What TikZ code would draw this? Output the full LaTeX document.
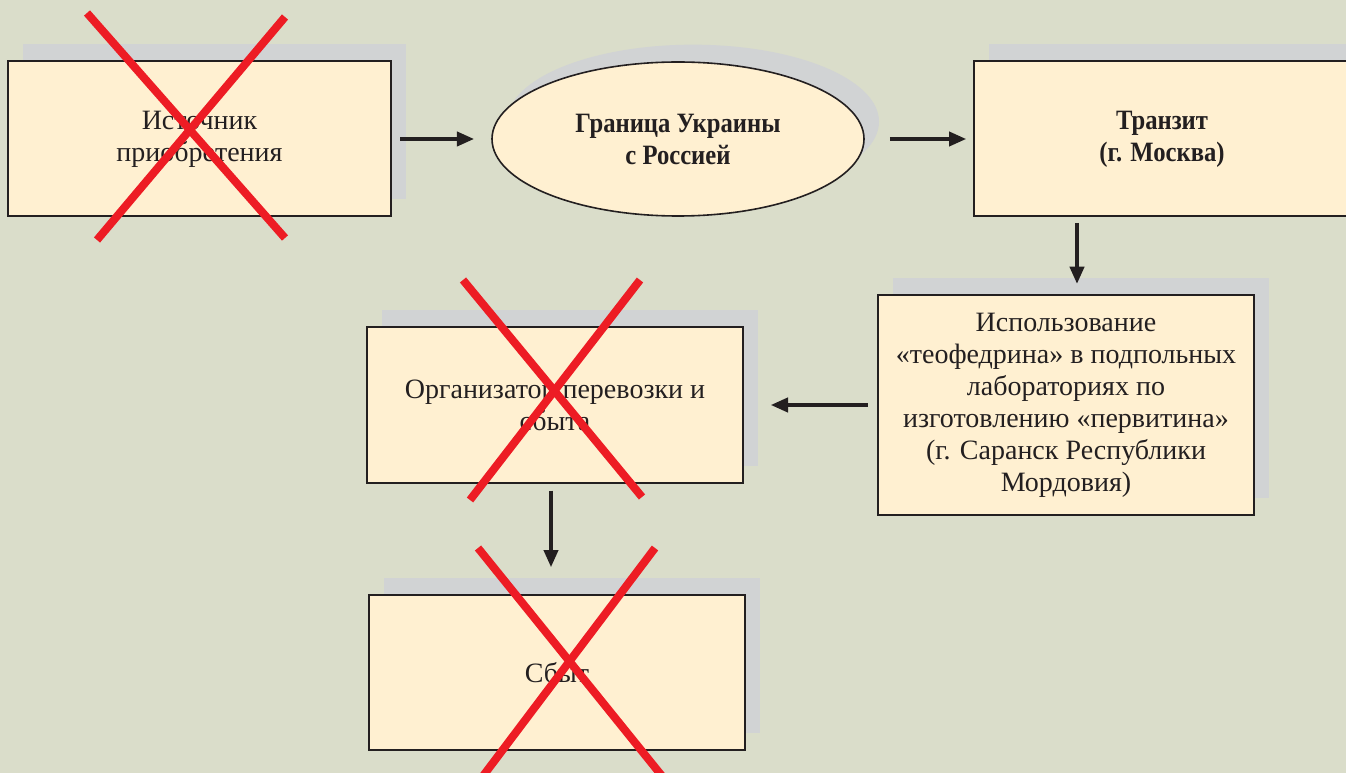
\documentclass[tikz,border=0pt]{standalone}
\usepackage{fontspec}
\setmainfont{Liberation Serif}
\newfontface\condbold[FakeStretch=0.88]{Liberation Serif Bold}
\usetikzlibrary{shapes.geometric,arrows.meta,shadows}
\definecolor{bg}{HTML}{DADDCA}
\definecolor{boxfill}{HTML}{FFF0D1}
\definecolor{shade}{HTML}{D1D3D4}
\definecolor{ink}{HTML}{231F20}
\definecolor{crossred}{HTML}{ED1C24}

\begin{document}
\begin{tikzpicture}[x=0.75pt,y=-0.75pt,
	shade box/.style={drop shadow={shadow xshift=11.25pt,shadow yshift=13pt,fill=shade,opacity=1}},
	box/.style={draw=ink,line width=1.5pt,fill=boxfill,text=ink,inner sep=0pt,
		minimum width=282pt,minimum height=116.25pt,align=center,
		font=\fontsize{21}{24}\selectfont,shade box},
	oval/.style={box,ellipse,minimum width=279pt,minimum height=115.5pt,line width=1.2pt},
	arr/.style={-{Triangle[length=13pt,width=10.5pt]},draw=ink,line width=3pt},
	cross/.style={crossred,line width=6pt}]
	\useasboundingbox (0,0) rectangle (1346,773);
	\fill[bg] (0,0) rectangle (1346,773);
	
	\node[box,minimum width=287.25pt] (src) at (199.5,139) {Источник\\приобретения};
	\node[oval] (border) at (678,139) {\condbold Граница Украины\\\condbold с Россией};
	\node[box] (transit) at (1162,139) {\condbold Транзит\\\condbold (г. Москва)};
	\node[box,minimum height=165pt] (lab) at (1066,405) {Использование\\«теофедрина» в подпольных\\лабораториях по\\изготовлению «первитина»\\(г. Саранск Республики\\Мордовия)};
	\node[box,minimum height=117pt] (org) at (555,405) {Организатор перевозки и\\сбыта};
	\node[box] (sale) at (557,672.5) {Сбыт};
	
	\draw[arr,shorten <=6pt,shorten >=12.75pt] (src) -- (border);
	\draw[arr,shorten <=18.75pt,shorten >=5pt] (border) -- (transit);
	\draw[arr,shorten <=4pt,shorten >=7.5pt] ([xshift=8.25pt]lab.north |- transit.south) -- ([xshift=8.25pt]lab.north);
	\draw[arr,shorten <=7pt,shorten >=20pt] (lab) -- (org);
	\draw[arr,shorten <=5pt,shorten >=20pt] ([xshift=-3pt]org.south) -- ([xshift=-3pt]org.south |- sale.north);
	
	% crossed out
	\draw[cross] ([shift={(-112.5,-126)}]src.center) -- ([shift={(85.5,99)}]src.center);
	\draw[cross] ([shift={(85.5,-122)}]src.center) -- ([shift={(-102.5,101)}]src.center);
	\draw[cross] ([shift={(-92,-125)}]org.center) -- ([shift={(87,92)}]org.center);
	\draw[cross] ([shift={(85,-125)}]org.center) -- ([shift={(-85,95)}]org.center);
	\draw[cross] ([shift={(-79,-124.5)}]sale.center) -- ([shift={(105,103.5)}]sale.center);
	\draw[cross] ([shift={(98,-124.5)}]sale.center) -- ([shift={(-74,103.5)}]sale.center);
\end{tikzpicture}
\end{document}
